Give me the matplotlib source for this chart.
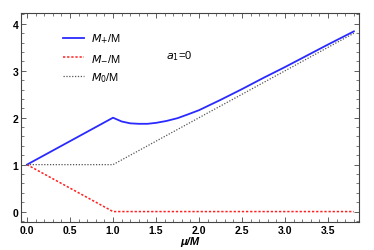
import matplotlib.pyplot as plt
from matplotlib.ticker import MultipleLocator

mu_plus = [0.0, 1.0, 1.1, 1.2, 1.3, 1.4, 1.5, 1.62, 1.75, 1.87, 2.0, 2.25, 2.5, 2.75, 3.0, 3.25, 3.5, 3.8]
m_plus = [1.0, 2.0, 1.92, 1.88, 1.87, 1.87, 1.89, 1.93, 1.99, 2.07, 2.16, 2.38, 2.61, 2.85, 3.08, 3.32, 3.56, 3.84]
mu_minus = [0.0, 1.0, 3.8]
m_minus = [1.0, 0.0, 0.0]
mu_zero = [0.0, 1.0, 3.8]
m_zero = [1.0, 1.0, 3.8]

plt.rcParams['font.family'] = ['Liberation Sans', 'DejaVu Sans']

fig = plt.figure(figsize=(3.74, 2.51), dpi=100)
ax = fig.add_axes([0.056, 0.112, 0.904, 0.832])

ax.plot(mu_plus, m_plus, color='#2a2aff', lw=1.3, label=r'$M_{+}$/M')
ax.plot(mu_minus, m_minus, color='#ff2020', lw=1.1, ls=(0, (1.5, 1.2)), label=r'$M_{-}$/M')
ax.plot(mu_zero, m_zero, color='#555555', lw=0.9, ls=(0, (1, 1.3)), label=r'$M_0$/M')

ax.set_xlim(-0.07, 3.86)
ax.set_ylim(-0.22, 4.23)
ax.xaxis.set_major_locator(MultipleLocator(0.5))
ax.xaxis.set_minor_locator(MultipleLocator(0.1))
ax.yaxis.set_major_locator(MultipleLocator(1))
ax.yaxis.set_minor_locator(MultipleLocator(0.2))
ax.xaxis.set_major_formatter(plt.FormatStrFormatter('%.1f'))
ax.tick_params(which='both', direction='in', top=True, right=True, color='#444444')
ax.tick_params(which='major', length=3.5, width=0.6, labelsize=7.5, pad=2)
ax.tick_params(which='minor', length=2, width=0.5)
for lab in ax.get_xticklabels() + ax.get_yticklabels():
    lab.set_fontweight('bold')
for s in ax.spines.values():
    s.set_color('#444444')
    s.set_linewidth(0.8)

ax.set_xlabel('μ/M', fontsize=8, fontweight='bold', fontstyle='italic', labelpad=1)

ax.legend(loc='upper left', bbox_to_anchor=(0.095, 0.96), frameon=False, fontsize=8,
          handlelength=1.9, labelspacing=0.65, handletextpad=0.6)
ax.text(1.62, 3.33, r'$a_1$=0', fontsize=8, va='center')

fig.savefig('out.png', dpi=100)
